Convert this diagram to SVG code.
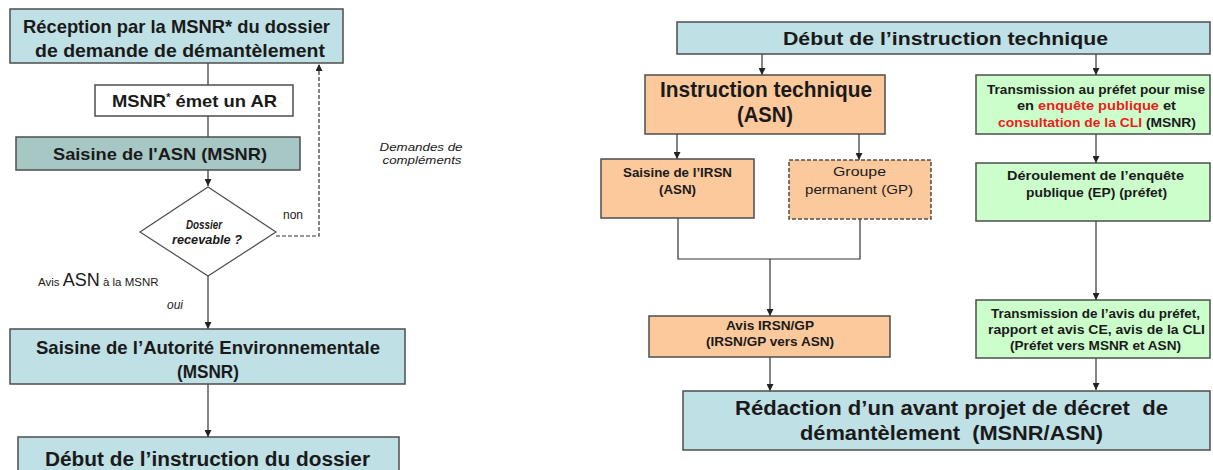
<svg xmlns="http://www.w3.org/2000/svg" width="1213" height="470" viewBox="0 0 1213 470">
<style>
.bx{stroke:#4d4d4d;stroke-width:1.5}
.blue{fill:#bfe0e5}
.teal{fill:#a7c7c5}
.white{fill:#ffffff}
.peach{fill:#fbc99c}
.green{fill:#ccfecc}
.dash{stroke-dasharray:4 2}
text{font-family:"Liberation Sans",Arial,sans-serif;fill:#1a1a1a}
.b{font-weight:bold}
.it{font-style:italic}
.c{text-anchor:middle}
.red{fill:#ee1c1c}
.ln{fill:none;stroke:#333;stroke-width:1.2}
</style>
<defs>
<marker id="ah" viewBox="0 0 8 8" refX="8" refY="4" markerWidth="7" markerHeight="7" markerUnits="userSpaceOnUse" orient="auto">
<path d="M0,0 L8,4 L0,8 Z" fill="#222"/>
</marker>
</defs>

<g id="connectors">
<line class="ln" x1="208" y1="63" x2="208" y2="85"/>
<line class="ln" x1="208" y1="116" x2="208" y2="137"/>
<line class="ln" x1="208" y1="170" x2="208" y2="186" marker-end="url(#ah)"/>
<polyline class="ln dash" points="276,236 319,236 319,64" marker-end="url(#ah)"/>
<line class="ln" x1="208" y1="276" x2="208" y2="329" marker-end="url(#ah)"/>
<line class="ln" x1="208" y1="384" x2="208" y2="437" marker-end="url(#ah)"/>
<line class="ln" x1="762" y1="54" x2="762" y2="75" marker-end="url(#ah)"/>
<line class="ln" x1="1096" y1="54" x2="1096" y2="75" marker-end="url(#ah)"/>
<line class="ln" x1="677" y1="134" x2="677" y2="159" marker-end="url(#ah)"/>
<line class="ln" x1="859" y1="134" x2="859" y2="160" marker-end="url(#ah)"/>
<polyline class="ln" points="678,218 678,259 860,259 860,219"/>
<line class="ln" x1="770" y1="259" x2="770" y2="316" marker-end="url(#ah)"/>
<line class="ln" x1="770" y1="357" x2="770" y2="391" marker-end="url(#ah)"/>
<line class="ln" x1="1096" y1="134" x2="1096" y2="163" marker-end="url(#ah)"/>
<line class="ln" x1="1096" y1="221" x2="1096" y2="300" marker-end="url(#ah)"/>
<line class="ln" x1="1096" y1="358" x2="1096" y2="390" marker-end="url(#ah)"/>
</g>

<g id="reception">
<rect class="bx blue" x="10" y="9" width="333" height="54"/>
<text class="b c" x="176.5" y="33" font-size="19" textLength="307" lengthAdjust="spacingAndGlyphs">Réception par la MSNR* du dossier</text>
<text class="b c" x="180" y="57" font-size="19" textLength="290" lengthAdjust="spacingAndGlyphs">de demande de démantèlement</text>
</g>

<g id="ar">
<rect class="bx white" x="95" y="85" width="198" height="31"/>
<text class="b c" x="194.5" y="107" font-size="17" textLength="165" lengthAdjust="spacingAndGlyphs">MSNR<tspan font-size="10" dy="-6">*</tspan><tspan dy="6"> émet un AR</tspan></text>
</g>

<g id="saisine-asn">
<rect class="bx teal" x="16" y="137" width="284" height="33"/>
<text class="b c" x="160" y="160" font-size="17" textLength="214" lengthAdjust="spacingAndGlyphs">Saisine de l'ASN (MSNR)</text>
</g>

<g id="recevable">
<polygon class="bx white" points="208,187 276,232 208,276 140,232" style="stroke-width:1.2"/>
<text class="b it c" x="204" y="229" font-size="12" textLength="36" lengthAdjust="spacingAndGlyphs">Dossier</text>
<text class="b it c" x="207" y="244" font-size="12" textLength="70" lengthAdjust="spacingAndGlyphs">recevable ?</text>
</g>

<g id="labels-left">
<text x="283" y="219" font-size="12">non</text>
<text class="it c" x="421" y="151" font-size="11.5" textLength="83" lengthAdjust="spacingAndGlyphs">Demandes de</text>
<text class="it c" x="422" y="164" font-size="11.5" textLength="79" lengthAdjust="spacingAndGlyphs">compléments</text>
<text x="38" y="286" font-size="11.5">Avis <tspan font-size="18">ASN</tspan> à la MSNR</text>
<text class="it" x="167" y="309" font-size="12">oui</text>
</g>

<g id="autorite-env">
<rect class="bx blue" x="10" y="329" width="395" height="55"/>
<text class="b c" x="208" y="354" font-size="19" textLength="344" lengthAdjust="spacingAndGlyphs">Saisine de l’Autorité Environnementale</text>
<text class="b c" x="208" y="378" font-size="19" textLength="62" lengthAdjust="spacingAndGlyphs">(MSNR)</text>
</g>

<g id="debut-dossier">
<rect class="bx blue" x="18" y="437" width="381" height="40"/>
<text class="b c" x="207.5" y="466" font-size="20" textLength="325" lengthAdjust="spacingAndGlyphs">Début de l’instruction du dossier</text>
</g>

<g id="debut-technique">
<rect class="bx blue" x="677" y="22" width="533" height="32"/>
<text class="b c" x="945.5" y="45" font-size="19" textLength="325" lengthAdjust="spacingAndGlyphs">Début de l’instruction technique</text>
</g>

<g id="instruction-technique">
<rect class="bx peach" x="645" y="75" width="240" height="59"/>
<text class="b c" x="766" y="97" font-size="22" textLength="212" lengthAdjust="spacingAndGlyphs">Instruction technique</text>
<text class="b c" x="765" y="122" font-size="22" textLength="56" lengthAdjust="spacingAndGlyphs">(ASN)</text>
</g>

<g id="saisine-irsn">
<rect class="bx peach" x="601" y="159" width="153" height="59"/>
<text class="b c" x="677.5" y="177" font-size="12" textLength="109" lengthAdjust="spacingAndGlyphs">Saisine de l’IRSN</text>
<text class="b c" x="677.5" y="194" font-size="12" textLength="37" lengthAdjust="spacingAndGlyphs">(ASN)</text>
</g>

<g id="groupe-permanent">
<rect class="bx peach dash" x="789" y="160" width="142" height="59"/>
<text class="c" x="859.5" y="176" font-size="12.5" textLength="53" lengthAdjust="spacingAndGlyphs">Groupe</text>
<text class="c" x="859" y="194" font-size="12.5" textLength="108" lengthAdjust="spacingAndGlyphs">permanent (GP)</text>
</g>

<g id="avis-irsn">
<rect class="bx peach" x="649" y="316" width="241" height="41"/>
<text class="b c" x="770" y="330" font-size="12" textLength="88" lengthAdjust="spacingAndGlyphs">Avis IRSN/GP</text>
<text class="b c" x="770" y="346" font-size="12" textLength="128" lengthAdjust="spacingAndGlyphs">(IRSN/GP vers ASN)</text>
</g>

<g id="transmission-prefet">
<rect class="bx green" x="976" y="75" width="234" height="59"/>
<text class="b c" x="1096" y="94" font-size="12" textLength="218" lengthAdjust="spacingAndGlyphs">Transmission au préfet pour mise</text>
<text class="b c" x="1096.5" y="110" font-size="12" textLength="159" lengthAdjust="spacingAndGlyphs">en <tspan class="red">enquête publique</tspan> et</text>
<text class="b c" x="1097" y="127" font-size="12" textLength="198" lengthAdjust="spacingAndGlyphs"><tspan class="red">consultation de la CLI</tspan> (MSNR)</text>
</g>

<g id="deroulement">
<rect class="bx green" x="976" y="163" width="234" height="58"/>
<text class="b c" x="1095.5" y="180" font-size="12.5" textLength="177" lengthAdjust="spacingAndGlyphs">Déroulement de l’enquête</text>
<text class="b c" x="1096.5" y="197" font-size="12.5" textLength="141" lengthAdjust="spacingAndGlyphs">publique (EP) (préfet)</text>
</g>

<g id="transmission-avis">
<rect class="bx green" x="976" y="300" width="234" height="58"/>
<text class="b c" x="1095.5" y="318" font-size="12" textLength="209" lengthAdjust="spacingAndGlyphs">Transmission de l’avis du préfet,</text>
<text class="b c" x="1096.5" y="334" font-size="12" textLength="217" lengthAdjust="spacingAndGlyphs">rapport et avis CE, avis de la CLI</text>
<text class="b c" x="1095.5" y="350" font-size="12" textLength="171" lengthAdjust="spacingAndGlyphs">(Préfet vers MSNR et ASN)</text>
</g>

<g id="redaction">
<rect class="bx blue" x="683" y="391" width="527" height="59"/>
<text class="b c" x="951.5" y="415" font-size="21" textLength="433" lengthAdjust="spacingAndGlyphs" xml:space="preserve">Rédaction d’un avant projet de décret  de</text>
<text class="b c" x="951.5" y="440" font-size="21" textLength="303" lengthAdjust="spacingAndGlyphs" xml:space="preserve">démantèlement  (MSNR/ASN)</text>
</g>
</svg>
